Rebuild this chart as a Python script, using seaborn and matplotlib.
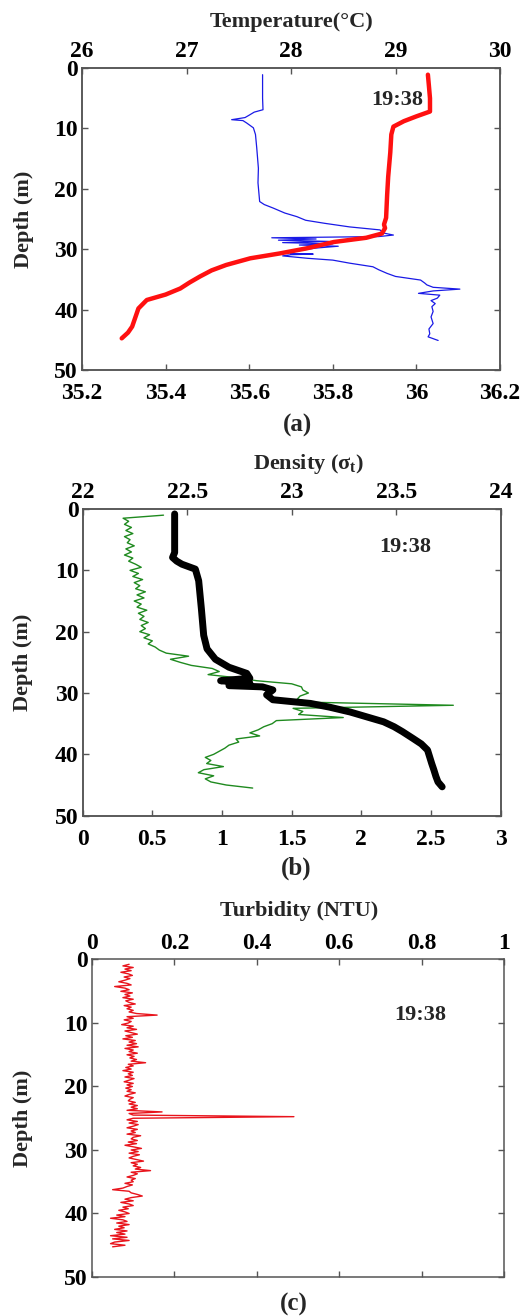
import numpy as np
import matplotlib
matplotlib.use("Agg")
import matplotlib.pyplot as plt
from matplotlib.ticker import FuncFormatter
import seaborn as sns

# ---------------- data ----------------
# Panel (a): temperature (top axis) and salinity (bottom axis)
temp_depth = [1.1, 3, 5, 7.2, 8.0, 8.8, 9.7, 11.0, 14, 18, 21, 24.8, 25.9, 26.5, 27.4, 28.1,
              28.8, 29.85, 30.7, 31.5, 32.6, 33.5, 34.5, 35.5, 36.5, 37.5, 38.4, 39.8, 41.3,
              42.8, 43.8, 44.75]
temp_val = [29.31, 29.32, 29.33, 29.33, 29.20, 29.08, 28.98, 28.96, 28.95, 28.93, 28.92, 28.91,
            28.89, 28.90, 28.87, 28.72, 28.41, 28.15, 27.89, 27.61, 27.38, 27.24, 27.13, 27.03,
            26.94, 26.80, 26.62, 26.54, 26.51, 26.48, 26.44, 26.38]

sal_depth = [1.1, 3, 5, 6.9, 7.3, 7.8, 8.2, 8.55, 8.7, 9.1, 9.9, 11, 13.2, 16.6, 19, 22.1, 22.6,
             23.2, 24.0, 24.6, 25.2, 25.7, 26.3, 26.8, 27.3, 27.65, 27.9, 28.1, 28.3, 28.5, 28.7,
             28.9, 29.1, 29.3, 29.5, 29.8, 30.2, 30.5, 30.7, 30.8, 30.9, 31.1, 31.5, 31.8, 32.3,
             32.9, 33.4, 34.0, 34.5, 35.1, 35.6, 35.9, 36.3, 36.6, 36.9, 37.3, 37.6, 38.1, 38.5,
             39.0, 39.5, 40.3, 41.2, 42.3, 43.2, 44.0, 44.5, 45.1]
sal_val = [35.632, 35.632, 35.632, 35.633, 35.612, 35.600, 35.590, 35.558, 35.585, 35.594, 35.610,
           35.615, 35.618, 35.622, 35.621, 35.625, 35.636, 35.658, 35.685, 35.714, 35.735, 35.780,
           35.840, 35.913, 35.920, 35.945, 35.910, 35.654, 35.760, 35.670, 35.790, 35.680, 35.800,
           35.720, 35.813, 35.760, 35.720, 35.700, 35.698, 35.753, 35.700, 35.680, 35.740, 35.800,
           35.840, 35.896, 35.910, 35.930, 35.950, 36.010, 36.020, 36.025, 36.040, 36.104, 36.040,
           36.005, 36.056, 36.050, 36.035, 36.045, 36.037, 36.040, 36.035, 36.040, 36.030, 36.032,
           36.028, 36.052]

# Panel (b): density sigma-t (top axis) and green profile (bottom axis)
dens_depth = [0.8, 4, 7.1, 7.9, 8.5, 9.0, 9.8, 11.7, 16.3, 20.6, 22.8, 24.5, 25.8, 26.8, 27.6,
              28.0, 28.4, 28.8, 29.0, 29.5, 30.3, 31.1, 31.7, 32.3, 33.1, 34.0, 34.7, 35.5, 36.3,
              37.4, 38.3, 39.3, 40.4, 41.5, 42.5, 43.6, 44.5, 45.3]
dens_val = [22.44, 22.44, 22.44, 22.43, 22.45, 22.475, 22.539, 22.555, 22.568, 22.579, 22.595,
            22.635, 22.70, 22.785, 22.80, 22.66, 22.80, 22.70, 22.86, 22.91, 22.88, 22.91, 23.09,
            23.18, 23.28, 23.37, 23.44, 23.49, 23.53, 23.58, 23.62, 23.65, 23.66, 23.67, 23.68,
            23.69, 23.70, 23.72]

green_depth = np.arange(1.0, 45.51, 0.5)
green_val = [0.58, 0.29, 0.33, 0.30, 0.35, 0.31, 0.36, 0.30, 0.34, 0.32,
             0.37, 0.31, 0.35, 0.30, 0.36, 0.33, 0.38, 0.42, 0.34, 0.40,
             0.36, 0.43, 0.37, 0.41, 0.38, 0.45, 0.39, 0.44, 0.37, 0.42,
             0.39, 0.46, 0.40, 0.44, 0.41, 0.47, 0.42, 0.45, 0.41, 0.48,
             0.44, 0.50, 0.47, 0.52, 0.55, 0.60, 0.76, 0.63, 0.70, 0.78,
             0.93, 0.98, 0.90, 1.10, 1.25, 1.50, 1.57, 1.58, 1.62, 1.56,
             1.54, 1.63, 2.66, 1.51, 1.58, 1.55, 1.87, 1.39, 1.36, 1.30,
             1.26, 1.20, 1.27, 1.10, 1.12, 1.05, 1.02, 0.98, 0.94, 0.88,
             0.92, 0.89, 1.01, 0.87, 0.83, 0.94, 0.88, 0.92, 1.03, 1.22]

# Panel (c): turbidity, every 0.25 m
turb_depth = np.arange(0.8, 45.31, 0.25)
turb_val = [0.09, 0.075, 0.10, 0.08, 0.095, 0.07, 0.088, 0.098, 0.078, 0.092,
            0.08, 0.065, 0.085, 0.095, 0.055, 0.08, 0.09, 0.07, 0.098, 0.08,
            0.092, 0.075, 0.10, 0.082, 0.09, 0.105, 0.078, 0.095, 0.085, 0.10,
            0.09, 0.108, 0.158, 0.085, 0.10, 0.078, 0.095, 0.088, 0.072, 0.10,
            0.085, 0.108, 0.08, 0.095, 0.11, 0.082, 0.098, 0.075, 0.105, 0.09,
            0.108, 0.085, 0.112, 0.08, 0.10, 0.09, 0.11, 0.085, 0.102, 0.092,
            0.108, 0.095, 0.13, 0.088, 0.10, 0.082, 0.095, 0.075, 0.10, 0.088,
            0.098, 0.08, 0.102, 0.09, 0.078, 0.10, 0.085, 0.098, 0.082, 0.095,
            0.085, 0.105, 0.09, 0.08, 0.10, 0.092, 0.088, 0.105, 0.09, 0.11,
            0.095, 0.11, 0.085, 0.17, 0.09, 0.10, 0.49, 0.10, 0.085, 0.11,
            0.09, 0.112, 0.10, 0.085, 0.11, 0.095, 0.105, 0.085, 0.118, 0.10,
            0.095, 0.11, 0.088, 0.108, 0.08, 0.10, 0.12, 0.095, 0.112, 0.09,
            0.115, 0.10, 0.09, 0.108, 0.125, 0.095, 0.11, 0.10, 0.118, 0.105,
            0.142, 0.095, 0.11, 0.10, 0.085, 0.105, 0.095, 0.10, 0.08, 0.098,
            0.085, 0.075, 0.05, 0.09, 0.095, 0.11, 0.122, 0.095, 0.08, 0.10,
            0.07, 0.09, 0.10, 0.075, 0.088, 0.065, 0.08, 0.09, 0.06, 0.08,
            0.045, 0.075, 0.085, 0.06, 0.09, 0.065, 0.078, 0.055, 0.085, 0.06,
            0.08, 0.045, 0.085, 0.05, 0.09, 0.055, 0.045, 0.08, 0.05]

depth_ticks = [0, 10, 20, 30, 40, 50]
temp_ticks = [26, 27, 28, 29, 30]
sal_ticks = [35.2, 35.4, 35.6, 35.8, 36.0, 36.2]
dens_ticks = [22, 22.5, 23, 23.5, 24]
green_ticks = [0, 0.5, 1, 1.5, 2, 2.5, 3]
turb_ticks = [0, 0.2, 0.4, 0.6, 0.8, 1]

time_label = "19:38"

# ---------------- style ----------------
sns.set_theme(style="white")
plt.rcParams["font.family"] = ["Liberation Serif", "DejaVu Serif"]
plt.rcParams["font.weight"] = "bold"
plt.rcParams["axes.labelweight"] = "bold"
plt.rcParams["mathtext.fontset"] = "custom"
plt.rcParams["mathtext.rm"] = "Liberation Serif"
plt.rcParams["mathtext.bf"] = "Liberation Serif:bold"

FS = 16
TFS = 17
SPINE = "#555555"
gfmt = FuncFormatter(lambda v, p: "%g" % round(v, 3))

fig = plt.figure(figsize=(5.24, 13.16), dpi=100)


def style_axes(ax):
    for s in ax.spines.values():
        s.set_color(SPINE)
        s.set_linewidth(1.1)
    ax.tick_params(direction="in", length=4, width=1, color=SPINE,
                   labelsize=TFS, labelcolor="black")


def make_panel(rect, ylab_x):
    ax = fig.add_axes(rect)
    style_axes(ax)
    ax.set_ylim(50, 0)
    ax.set_yticks(depth_ticks)
    ax.tick_params(axis="y", left=True, right=True, pad=3)
    ax.set_ylabel("Depth (m)", fontsize=FS, fontweight="bold")
    ax.yaxis.set_label_coords(ylab_x, 0.5)
    return ax


# ---- Panel (a) ----
axa = make_panel([0.1565, 0.7188, 0.7977, 0.2295], -0.115)
sns.lineplot(x=sal_val, y=sal_depth, ax=axa, color="#1a1ae6", lw=0.9,
             sort=False, estimator=None, legend=False)
axa.set_xlim(35.2, 36.2)
axa.set_xticks(sal_ticks)
axa.xaxis.set_major_formatter(gfmt)
axa.tick_params(axis="x", bottom=True, top=False, pad=9.5)
axa.set_ylim(50, 0)
axa.set_xlabel("")
axa.text(0.754, 0.894, time_label, transform=axa.transAxes, ha="center", va="center",
         fontsize=FS, fontweight="bold", zorder=10)

axa2 = axa.twiny()
style_axes(axa2)
sns.lineplot(x=temp_val, y=temp_depth, ax=axa2, color="#ff1010", lw=3.2,
             sort=False, estimator=None, legend=False)
axa2.set_xlim(26, 30)
axa2.set_xticks(temp_ticks)
axa2.xaxis.set_major_formatter(gfmt)
axa2.tick_params(axis="x", top=True, bottom=False, pad=4)
axa2.set_ylim(50, 0)
axa2.set_xlabel("Temperature(\u00b0C)", fontsize=FS, fontweight="bold")
axa2.xaxis.set_label_coords(0.502, 1.136)
axa2.set_ylabel("")

# ---- Panel (b) ----
axb = make_panel([0.1578, 0.3802, 0.7977, 0.2330], -0.119)
sns.lineplot(x=green_val, y=green_depth, ax=axb, color="#1f8a1f", lw=1.0,
             sort=False, estimator=None, legend=False)
axb.set_xlim(0, 3)
axb.set_xticks(green_ticks)
axb.xaxis.set_major_formatter(gfmt)
axb.tick_params(axis="x", bottom=True, top=False, pad=9.5)
axb.set_ylim(50, 0)
axb.set_xlabel("")
axb.text(0.771, 0.876, time_label, transform=axb.transAxes, ha="center", va="center",
         fontsize=FS, fontweight="bold", zorder=10)

axb2 = axb.twiny()
style_axes(axb2)
sns.lineplot(x=dens_val, y=dens_depth, ax=axb2, color="black", lw=5,
             sort=False, estimator=None, legend=False)
axb2.set_xlim(22, 24)
axb2.set_xticks(dens_ticks)
axb2.xaxis.set_major_formatter(gfmt)
axb2.tick_params(axis="x", top=True, bottom=False, pad=4)
axb2.set_ylim(50, 0)
axb2.set_xlabel("Density (\u03c3$_{\\mathbf{t}}$)", fontsize=FS, fontweight="bold")
axb2.xaxis.set_label_coords(0.541, 1.130)
axb2.set_ylabel("")

# ---- Panel (c) ----
axc = make_panel([0.1756, 0.0299, 0.7863, 0.2412], -0.143)
sns.lineplot(x=turb_val, y=turb_depth, ax=axc, color="#e8141c", lw=1.0,
             sort=False, estimator=None, legend=False)
axc.set_xlim(0, 1)
axc.set_xticks(turb_ticks)
axc.xaxis.set_major_formatter(gfmt)
axc.tick_params(axis="x", top=True, bottom=True, labeltop=True, labelbottom=False, pad=4)
axc.xaxis.set_label_position("top")
axc.set_xlabel("Turbidity (NTU)", fontsize=FS, fontweight="bold")
axc.xaxis.set_label_coords(0.502, 1.136)
axc.set_ylim(50, 0)
axc.text(0.796, 0.825, time_label, transform=axc.transAxes, ha="center", va="center",
         fontsize=FS, fontweight="bold", zorder=10)

# panel letters
for lab, xx, yy in [("(a)", 0.567, 0.677), ("(b)", 0.565, 0.340), ("(c)", 0.561, 0.0085)]:
    fig.text(xx, yy, lab, ha="center", va="center", fontsize=18, fontweight="bold")

fig.savefig("out.png", dpi=100)
